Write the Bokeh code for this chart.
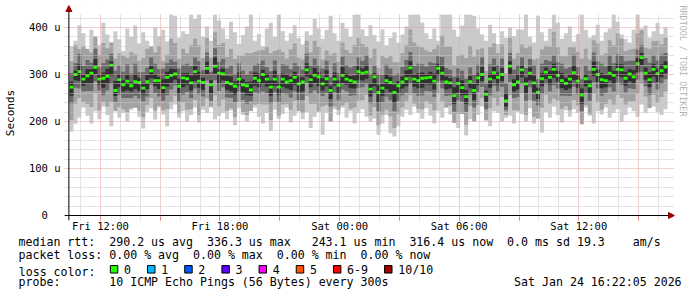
import numpy as np
from bokeh.plotting import figure
from bokeh.models import Range1d, FixedTicker, Arrow, NormalHead, Title, BoxAnnotation
from bokeh.layouts import column
from bokeh.embed import file_html
from bokeh.resources import INLINE
from bokeh.core.properties import value

MONO = "DejaVu Sans Mono"

# ---- time axis (hours since Fri 00:00) ----
T0 = 10.45          # first sample, Fri 10:27
STEP = 0.2          # 12 minutes per consolidated sample
X_START, X_END = 10.2, 40.8
Y_START, Y_END = -10.64, 446.8
GRAPH_TOP = 427.7   # upper limit of the graph area

x_ticks = [12, 15, 18, 21, 24, 27, 30, 33, 36, 39]
x_tick_labels = ["Fri 12:00", "", "Fri 18:00", "", "Sat 00:00", "", "Sat 06:00", "", "Sat 12:00", ""]
x_minor = [h for h in range(11, 41) if h % 3 != 0]
y_ticks = [0, 100, 200, 300, 400]
y_tick_labels = ["0\u00a0\u00a0", "100 u", "200 u", "300 u", "400 u"]
y_minor = [v for v in range(20, 421, 20) if v % 100 != 0]

# ---- median rtt (us) ----
median = [
    273, 300, 306, 290, 297, 303, 315, 290, 292, 296, 320, 266, 289, 278, 286, 276, 285, 283, 271, 285,
    308, 287, 287, 272, 294, 298, 301, 275, 293, 291, 282, 306, 286, 283, 313, 278, 318, 303,
    301, 283, 280, 275, 290, 278, 276, 267, 292, 287, 300, 290, 273, 290, 273, 290, 284, 287, 294, 280,
    284, 310, 289, 298, 295, 280, 291, 266, 290, 277, 298, 290, 287, 284, 306, 303, 305, 269,
    295, 262, 271, 287, 283, 262, 276, 284, 291, 314, 290, 287, 292, 293, 294, 286, 313, 303, 284,
    282, 255, 281, 272, 253, 285, 266, 293, 300, 258, 290, 304, 294, 300, 244, 318, 278, 284,
    310, 280, 303, 282, 262, 291, 305, 294, 311, 298, 287, 281, 290, 304, 286, 256, 291, 276, 311, 300,
    289, 287, 303, 298, 311, 310, 292, 301, 295, 323, 336, 303, 289, 311, 302, 308, 316,
]

# ---- max / min ping of each sample (us); 428 = top edge of the graph ----
ping_max = [
    360, 372, 405, 388, 350, 395, 378, 362, 410, 385, 368, 392, 375, 350, 398, 380, 404, 366, 390, 372,
    356, 400, 382, 395, 370, 428, 425, 378, 392, 386, 428, 418, 428, 380, 402, 372, 428, 415,
    398, 376, 412, 390, 365, 384, 402, 428, 372, 386, 360, 398, 410, 380, 428, 392, 372, 388, 405, 378,
    364, 392, 384, 418, 398, 376, 395, 425, 388, 372, 410, 398, 380, 428, 428, 396, 382, 405,
    384, 370, 396, 362, 378, 390, 368, 385, 402, 428, 428, 428, 410, 388, 376, 398, 372, 428, 428,
    428, 395, 380, 404, 428, 428, 425, 398, 385, 372, 406, 388, 365, 392, 378, 400, 382, 396,
    396, 428, 380, 368, 425, 390, 372, 398, 428, 410, 376, 388, 402, 370, 386, 428, 395, 378, 384, 406,
    372, 390, 398, 428, 412, 385, 376, 368, 395, 428, 398, 404, 378, 392, 410, 386, 400,
]
ping_min = [
    178, 195, 208, 230, 212, 196, 222, 205, 232, 214, 190, 226, 208, 218, 200, 225, 232, 210, 185, 220,
    228, 204, 230, 215, 190, 226, 236, 208, 222, 200, 214, 230, 198, 225, 218, 230, 205, 212,
    218, 205, 224, 192, 228, 214, 200, 222, 230, 210, 196, 218, 180, 225, 206, 216, 230, 198, 212, 228,
    205, 220, 186, 210, 228, 172, 218, 200, 226, 214, 230, 208, 222, 196, 218, 226, 210, 200,
    206, 172, 195, 214, 175, 168, 190, 210, 225, 214, 232, 218, 206, 228, 212, 196, 222, 208, 230,
    215, 200, 186, 218, 170, 205, 226, 214, 232, 208, 190, 222, 218, 200, 208, 212, 196, 220,
    216, 200, 228, 196, 210, 176, 220, 208, 232, 214, 198, 224, 210, 226, 218, 204, 230, 212, 196, 222,
    215, 230, 208, 218, 226, 200, 214, 230, 222, 210, 236, 218, 228, 232, 220, 214, 226,
]

# ---- spread of inner ping pairs above / below the median (us) ----
up2 = [55, 62, 48, 70, 58, 44, 66, 52, 75, 60, 48, 68, 56, 62, 50, 72, 58, 46, 64, 70,
       52, 60, 74, 56, 48, 78, 66, 58, 62, 54, 80, 70, 76, 52, 64, 58, 72, 60, 66, 54,
       74, 58, 50, 62, 70, 78, 56, 64, 52, 68, 72, 60, 80, 58, 50, 66, 72, 56, 48, 62,
       58, 74, 64, 52, 60, 76, 56, 50, 70, 62, 58, 78, 72, 62, 54, 66, 60, 52, 68, 48,
       56, 64, 50, 62, 72, 82, 78, 74, 66, 58, 54, 68, 50, 80, 76, 78, 64, 58, 70, 82,
       76, 72, 60, 56, 50, 68, 62, 52, 64, 58, 60, 56, 62, 54, 76, 58, 50, 72, 62, 56,
       66, 80, 60, 52, 58, 68, 54, 62, 78, 64, 56, 62, 66, 52, 58, 70, 64, 76, 66, 58,
       52, 60, 64, 58, 54, 66, 60, 70, 56, 62]
dn2 = [70, 62, 56, 48, 60, 72, 54, 66, 50, 64, 78, 44, 58, 52, 66, 48, 56, 60, 62, 50,
       58, 64, 54, 48, 68, 56, 46, 58, 52, 66, 56, 60, 72, 50, 64, 46, 62, 70, 54, 60,
       52, 66, 48, 58, 62, 44, 56, 50, 64, 54, 70, 48, 60, 54, 46, 62, 50, 58, 66, 56,
       52, 60, 74, 48, 56, 66, 58, 52, 64, 50, 60, 54, 62, 58, 48, 56, 64, 70, 56, 62,
       72, 76, 60, 54, 48, 58, 52, 60, 66, 50, 56, 62, 52, 60, 54, 48, 58, 64, 56, 60,
       52, 66, 58, 50, 56, 62, 54, 60, 48, 30, 62, 54, 60, 50, 66, 58, 72, 56, 62, 48,
       56, 62, 54, 60, 48, 66, 58, 52, 62, 56, 60, 52, 58, 64, 50, 56, 62, 54, 60, 56,
       58, 52, 64, 56, 50, 60, 54, 62, 56, 52]
up3 = [30, 24, 38, 28, 34, 22, 40, 26, 32, 36, 24, 42, 30, 28, 36, 26, 38, 22, 34, 30,
       28, 36, 24, 40, 30, 34, 26, 38, 28, 32, 36, 30, 42, 26, 34, 28, 38, 24, 32, 30,
       38, 26, 34, 30, 24, 40, 28, 36, 30, 26, 34, 40, 28, 32, 36, 24, 30, 38, 26, 34,
       30, 36, 24, 32, 38, 28, 34, 26, 40, 30, 28, 34, 30, 26, 36, 32, 24, 38, 28, 34,
       30, 36, 26, 32, 40, 34, 28, 36, 30, 24, 32, 38, 26, 34, 30, 28, 40, 32, 36, 38,
       30, 34, 28, 36, 24, 32, 30, 26, 34, 38, 28, 32, 36, 26, 34, 30, 38, 28, 32, 26,
       34, 30, 28, 36, 32, 26, 38, 30, 34, 28, 32, 36, 28, 34, 30, 38, 26, 32, 30, 36,
       28, 34, 30, 26, 32, 36, 30, 28, 34, 30]
dn3 = [34, 28, 36, 26, 32, 38, 30, 24, 36, 30, 40, 24, 32, 28, 36, 26, 30, 34, 28, 32,
       30, 26, 34, 28, 38, 30, 24, 32, 36, 28, 32, 36, 28, 30, 26, 34, 30, 38, 28, 32,
       30, 34, 26, 32, 38, 24, 30, 28, 36, 30, 34, 28, 32, 30, 26, 36, 30, 34, 38, 28,
       30, 32, 36, 26, 30, 34, 28, 32, 30, 26, 32, 28, 34, 30, 26, 30, 36, 40, 30, 34,
       38, 40, 32, 28, 30, 34, 30, 32, 36, 28, 30, 34, 28, 32, 30, 26, 34, 36, 30, 32,
       28, 36, 30, 26, 32, 34, 28, 30, 26, 20, 34, 28, 32, 30, 36, 30, 38, 28, 32, 26,
       30, 34, 28, 32, 26, 36, 30, 28, 34, 30, 32, 28, 30, 34, 26, 30, 34, 28, 32, 30,
       30, 26, 34, 30, 28, 32, 30, 34, 28, 26]
up4 = [12, 8, 16, 10, 14, 8, 18, 10, 12, 16, 8, 20, 12, 10, 14, 8, 16, 10, 12, 14,
       10, 14, 8, 18, 12, 14, 10, 16, 10, 12, 16, 12, 20, 10, 14, 10, 18, 8, 12, 14,
       16, 10, 14, 12, 8, 18, 12, 16, 10, 12, 14, 18, 10, 12, 16, 8, 12, 16, 10, 14,
       12, 16, 10, 12, 18, 10, 14, 10, 18, 12, 10, 14, 12, 10, 16, 12, 8, 16, 10, 14,
       12, 16, 10, 12, 18, 14, 10, 16, 12, 8, 12, 16, 10, 14, 12, 10, 18, 12, 16, 14,
       12, 14, 10, 16, 8, 12, 12, 10, 14, 16, 10, 12, 16, 10, 14, 12, 16, 10, 12, 10,
       14, 12, 10, 16, 12, 10, 16, 12, 14, 10, 12, 16, 10, 14, 12, 16, 10, 12, 12, 14,
       10, 14, 12, 10, 12, 16, 12, 10, 14, 12]
dn4 = [18, 12, 20, 14, 16, 22, 14, 12, 20, 16, 22, 12, 16, 14, 20, 12, 16, 18, 14, 16,
       16, 12, 18, 14, 20, 16, 12, 16, 20, 14, 16, 20, 14, 16, 12, 18, 16, 22, 14, 16,
       16, 18, 14, 16, 20, 12, 16, 14, 20, 16, 18, 14, 16, 16, 14, 20, 16, 18, 20, 14,
       16, 16, 20, 14, 16, 18, 14, 16, 16, 12, 16, 14, 18, 16, 14, 16, 20, 22, 16, 18,
       20, 22, 16, 14, 16, 18, 16, 16, 20, 14, 16, 18, 14, 16, 16, 12, 18, 20, 16, 16,
       14, 20, 16, 14, 16, 18, 14, 16, 14, 12, 18, 14, 16, 16, 20, 16, 20, 14, 16, 14,
       16, 18, 14, 16, 14, 20, 16, 14, 18, 16, 16, 14, 16, 18, 14, 16, 18, 14, 16, 16,
       16, 14, 18, 16, 14, 16, 16, 18, 14, 14]

# ---- legend texts ----
loss_title = "loss color:"
loss_labels = ["0", "1", "2", "3", "4", "5", "6-9", "10/10"]
loss_colors = ["#26ff00", "#00b8ff", "#0059ff", "#5e00ff", "#ff00ff", "#ff5500", "#ff0000", "#a00000"]
rtt_line = "median rtt:  290.2 us avg  336.3 us max   243.1 us min  316.4 us now  0.0 ms sd 19.3    am/s"
loss_line = "packet loss: 0.00 % avg  0.00 % max  0.00 % min  0.00 % now"
probe_line = "probe:       10 ICMP Echo Pings (56 Bytes) every 300s                  Sat Jan 24 16:22:05 2026"
watermark = "RRDTOOL / TOBI OETIKER"

# ---------------------------------------------------------------
med = np.array(median, dtype=float)
n = len(med)
xl = T0 + STEP * np.arange(n)
xs = np.append(xl, xl[-1] + STEP)

def ext(a):
    a = np.asarray(a, dtype=float)
    return np.append(a, a[-1])

p = figure(width=697, height=263, x_range=Range1d(X_START, X_END), y_range=Range1d(Y_START, Y_END),
           output_backend="svg", toolbar_location=None, title=None,
           min_border_left=62, min_border_right=23, min_border_top=5, min_border_bottom=43,
           background_fill_color="white", border_fill_color="white", outline_line_color=None)

bands = [
    (ext(ping_min), ext(ping_max), "#cacaca"),
    (ext(med - np.array(dn2)), ext(med + np.array(up2)), "#a2a2a2"),
    (ext(med - np.array(dn3)), ext(med + np.array(up3)), "#6a6a6a"),
    (ext(med - np.array(dn4)), ext(med + np.array(up4)), "#303030"),
]
for lo, hi, col in bands:
    p.varea_step(x=xs, y1=lo, y2=hi, step_mode="after", fill_color=col)

p.quad(left=xl, right=xl + STEP, bottom=med - 3.0, top=med + 3.0,
       fill_color=loss_colors[0], line_color=None)

# grids drawn on top of the smoke, like rrdtool
p.xgrid.ticker = FixedTicker(ticks=x_ticks, minor_ticks=x_minor)
p.ygrid.ticker = FixedTicker(ticks=y_ticks, minor_ticks=y_minor)
for g in (p.xgrid[0], p.ygrid[0]):
    g.grid_line_color = "#e89a9a"
    g.grid_line_dash = "1 1"
    g.minor_grid_line_color = "#c8c8c8"
    g.minor_grid_line_dash = "1 1"
    g.level = "annotation"

# nothing of the grid above the graph area
p.add_layout(BoxAnnotation(bottom=GRAPH_TOP, fill_color="white", fill_alpha=1.0,
                           line_color=None, line_alpha=0, level="annotation"))

xa = p.xaxis[0]
xa.ticker = FixedTicker(ticks=x_ticks)
xa.major_label_overrides = dict(zip(x_ticks, x_tick_labels))
xa.axis_line_color = None
xa.major_tick_line_color = "#e07070"
xa.major_tick_out = 0
xa.major_tick_in = 4
xa.minor_tick_line_color = None
xa.major_label_standoff = -1
xa.major_label_text_font = MONO
xa.major_label_text_font_size = "10.5px"
xa.major_label_text_color = "#000000"

ya = p.yaxis[0]
ya.ticker = FixedTicker(ticks=y_ticks)
ya.major_label_overrides = dict(zip(y_ticks, y_tick_labels))
ya.axis_line_color = None
ya.major_tick_line_color = None
ya.minor_tick_line_color = None
ya.major_tick_out = 0
ya.major_tick_in = 0
ya.major_label_standoff = 4
ya.major_label_text_font = MONO
ya.major_label_text_font_size = "10.5px"
ya.major_label_text_color = "#000000"
ya.axis_label = "Seconds"
ya.axis_label_text_font = MONO
ya.axis_label_text_font_size = "11px"
ya.axis_label_text_font_style = "normal"
ya.axis_label_text_color = "#000000"
ya.axis_label_standoff = 9

# axis lines with arrow heads
head = dict(size=6, fill_color="#a00000", line_color="#a00000", line_width=1)
p.add_layout(Arrow(end=NormalHead(**head), x_start=X_START, y_start=0, x_end=X_END, y_end=0,
                   line_color="#000000", line_width=1))
p.add_layout(Arrow(end=NormalHead(**head), x_start=10.42, y_start=Y_START, x_end=10.42, y_end=Y_END,
                   line_color="#000000", line_width=1))

# watermark on the right
p.add_layout(Title(text=watermark, align="left", offset=0, standoff=7, text_font=MONO,
                   text_font_size="8.4px", text_font_style="normal", text_color="#b4b4b4"), "right")

def line_title(s):
    return Title(text=s.replace(" ", "\u00a0"), align="left", offset=-46, standoff=-3.5,
                 text_font=MONO, text_font_size="11.6px", text_font_style="normal",
                 text_color="#000000")

p.add_layout(line_title(rtt_line), "below")
p.add_layout(line_title(loss_line), "below")

# ---- loss colour legend row + probe line ----
q = figure(width=697, height=34, x_range=Range1d(62, 674), y_range=Range1d(274, 263),
           output_backend="svg", toolbar_location=None, title=None, x_axis_location=None,
           min_border_left=62, min_border_right=23, min_border_top=0, min_border_bottom=23,
           background_fill_color="white", border_fill_color="white", outline_line_color=None)
q.grid.visible = False

qa = q.yaxis[0]
qa.ticker = FixedTicker(ticks=[269])
qa.major_label_overrides = {269: loss_title}
qa.axis_line_color = None
qa.major_tick_line_color = None
qa.minor_tick_line_color = None
qa.major_tick_out = 0
qa.major_tick_in = 0
qa.major_label_standoff = -31
qa.major_label_text_font = MONO
qa.major_label_text_font_size = "11.6px"
qa.major_label_text_color = "#000000"

CW = 7.0
sq_x, lab_x = [], []
cur = 16 + 13 * CW + 1
for lab in loss_labels:
    sq_x.append(cur + 3.75)
    lab_x.append(cur + 13.7)
    cur += 13.7 + CW * len(lab) + 16.6
q.rect(x=sq_x, y=[268.8] * len(sq_x), width=7.5, height=7.5, fill_color=loss_colors,
       line_color="#000000", line_width=1)
q.text(x=lab_x, y=[269] * len(lab_x), text=loss_labels, text_font=value(MONO),
       text_font_size="11.6px", text_baseline="middle", text_color="#000000")

q.add_layout(line_title(probe_line), "below")

layout = column(p, q, spacing=0)
open("out.html", "w").write(file_html(layout, INLINE))
